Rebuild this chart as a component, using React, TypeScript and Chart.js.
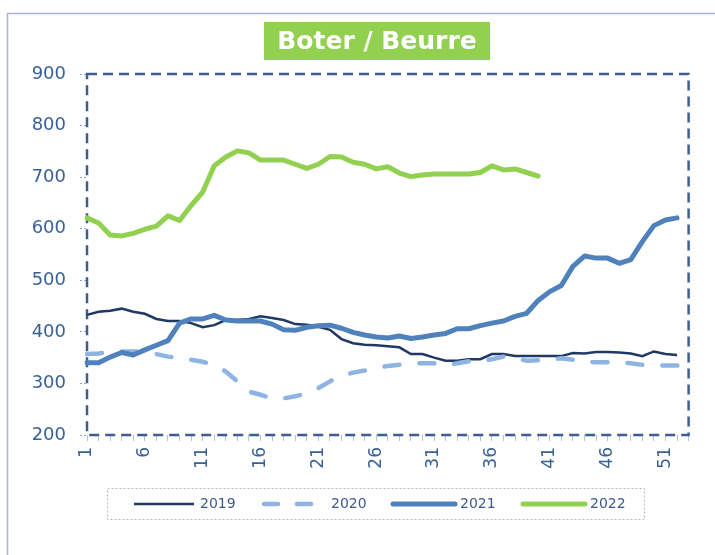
import React, { useEffect, useRef } from "react";
import { Chart, registerables } from "chart.js";

Chart.register(...registerables);

const weeks = [
  "1", "2", "3", "4", "5", "6", "7", "8", "9", "10",
  "11", "12", "13", "14", "15", "16", "17", "18", "19", "20",
  "21", "22", "23", "24", "25", "26", "27", "28", "29", "30",
  "31", "32", "33", "34", "35", "36", "37", "38", "39", "40",
  "41", "42", "43", "44", "45", "46", "47", "48", "49", "50",
  "51", "52", "53",
];

const seriesNames = ["2019", "2020", "2021", "2022"];

const values2019 = [
  433, 439, 441, 445, 439, 435, 425, 421, 421, 417,
  409, 413, 423, 423, 425, 430, 427, 423, 415, 414,
  410, 404, 386, 378, 375, 374, 372, 370, 357, 357,
  350, 344, 344, 347, 347, 357, 357, 353, 353, 353,
  353, 353, 359, 358, 361, 361, 360, 358, 353, 362,
  357, 355,
];

const values2020 = [
  357, 358, 361, 362, 362, 361, 357, 352, 349, 346,
  342, 336, 323, 304, 284, 278, 271, 271, 275, 281,
  291, 304, 315, 321, 325, 330, 334, 336, 339, 339,
  339, 335, 339, 343, 343, 347, 352, 349, 344, 345,
  346, 349, 346, 342, 341, 341, 341, 339, 336, 335,
  335, 335, 335,
];

const values2021 = [
  340, 340, 351, 360, 355, 365, 374, 383, 417, 425,
  425, 432, 423, 421, 421, 421, 415, 404, 403, 409,
  412, 413, 407, 399, 394, 390, 388, 392, 387, 390,
  394, 397, 406, 406, 412, 417, 421, 430, 436, 461,
  478, 490, 527, 547, 543, 543, 533, 540, 575, 606,
  617, 621,
];

const values2022 = [
  621, 611, 588, 586, 591, 599, 605, 625, 616, 645,
  671, 722, 739, 751, 747, 733, 733, 733, 725, 717,
  725, 740, 739, 729, 725, 716, 720, 708, 701, 704,
  706, 706, 706, 706, 709, 722, 714, 716, 709, 702,
];

const yMin = 200;
const yMax = 900;
const yStep = 100;
const titleText = "Boter / Beurre";

const C2019 = "#1f3864";
const C2020 = "#8db4e2";
const C2021 = "#4f81bd";
const C2022 = "#92d050";
const AXIS_TEXT = "#3a6194";

const decorPlugin = {
  id: "decor",
  beforeDraw(chart: any) {
    const ctx = chart.ctx;
    ctx.save();
    ctx.fillStyle = "#ffffff";
    ctx.fillRect(0, 0, chart.width, chart.height);
    ctx.strokeStyle = "#a8b6cb";
    ctx.lineWidth = 1.5;
    ctx.beginPath();
    ctx.moveTo(7.5, chart.height);
    ctx.lineTo(7.5, 13.5);
    ctx.lineTo(chart.width, 13.5);
    ctx.stroke();
    ctx.restore();
  },
  beforeDatasetsDraw(chart: any) {
    const { ctx, chartArea } = chart;
    ctx.save();
    ctx.strokeStyle = "#3b5f93";
    ctx.lineWidth = 2.5;
    ctx.setLineDash([10, 6]);
    ctx.strokeRect(
      chartArea.left,
      chartArea.top,
      chartArea.right - chartArea.left,
      chartArea.bottom - chartArea.top
    );
    ctx.restore();
  },
  afterDraw(chart: any) {
    const ctx = chart.ctx;
    ctx.save();
    // title
    ctx.fillStyle = C2022;
    ctx.fillRect(264, 22, 226, 38);
    ctx.fillStyle = "#ffffff";
    ctx.font = "bold 25px 'DejaVu Sans'";
    ctx.textAlign = "center";
    ctx.textBaseline = "middle";
    ctx.fillText(titleText, 377, 42);

    // legend
    ctx.strokeStyle = "#b3b9c4";
    ctx.lineWidth = 1;
    ctx.setLineDash([2, 2]);
    ctx.strokeRect(107.5, 488.5, 537, 31);
    ctx.setLineDash([]);
    const ly = 504;
    const items = [
      { x0: 134, x1: 194, tx: 200, color: C2019, w: 2.5, dash: [] as number[], cap: "butt" },
      { x0: 264, x1: 311, tx: 331, color: C2020, w: 4.5, dash: [14, 19], cap: "round" },
      { x0: 393, x1: 455, tx: 460, color: C2021, w: 5, dash: [] as number[], cap: "round" },
      { x0: 523, x1: 585, tx: 590, color: C2022, w: 5, dash: [] as number[], cap: "round" },
    ];
    items.forEach((it, i) => {
      ctx.strokeStyle = it.color;
      ctx.lineWidth = it.w;
      ctx.lineCap = it.cap;
      ctx.setLineDash(it.dash);
      ctx.beginPath();
      ctx.moveTo(it.x0, ly);
      ctx.lineTo(it.x1, ly);
      ctx.stroke();
      ctx.setLineDash([]);
      ctx.fillStyle = "#3d5a8a";
      ctx.font = "14px 'DejaVu Sans'";
      ctx.textAlign = "left";
      ctx.textBaseline = "middle";
      ctx.fillText(seriesNames[i], it.tx, ly);
    });
    ctx.restore();
  },
};

export default function App() {
  const canvasRef = useRef<HTMLCanvasElement | null>(null);

  useEffect(() => {
    if (!canvasRef.current) return;
    const chart = new Chart(canvasRef.current, {
      type: "line",
      data: {
        labels: weeks,
        datasets: [
          {
            label: seriesNames[0],
            data: values2019,
            borderColor: C2019,
            borderWidth: 2.5,
            order: 4,
          },
          {
            label: seriesNames[1],
            data: values2020,
            borderColor: C2020,
            borderWidth: 4.5,
            borderDash: [15, 20],
            borderCapStyle: "round",
            order: 3,
          },
          {
            label: seriesNames[2],
            data: values2021,
            borderColor: C2021,
            borderWidth: 5,
            borderCapStyle: "round",
            borderJoinStyle: "round",
            order: 2,
          },
          {
            label: seriesNames[3],
            data: values2022,
            borderColor: C2022,
            borderWidth: 5,
            borderCapStyle: "round",
            borderJoinStyle: "round",
            order: 1,
          },
        ],
      },
      options: {
        responsive: false,
        animation: false,
        layout: { padding: { top: 74, right: 25, left: 0, bottom: 0 } },
        elements: {
          point: { radius: 0, hoverRadius: 0 },
          line: { tension: 0, fill: false },
        },
        plugins: {
          legend: { display: false },
          title: { display: false },
          tooltip: { enabled: false },
        },
        scales: {
          x: {
            type: "category",
            offset: false,
            border: { display: false },
            grid: {
              drawOnChartArea: false,
              drawTicks: true,
              tickLength: 6,
              color: "#b4c4d8",
              lineWidth: 1,
            },
            ticks: {
              autoSkip: false,
              maxRotation: 90,
              minRotation: 90,
              padding: 6,
              color: AXIS_TEXT,
              font: { family: "DejaVu Sans", size: 17 },
              callback: (_v: any, i: number) => (i % 5 === 0 ? weeks[i] : ""),
            },
            afterFit: (s: any) => {
              s.height = 120;
            },
          },
          y: {
            min: yMin,
            max: yMax,
            border: { display: false },
            grid: {
              drawOnChartArea: false,
              drawTicks: true,
              tickLength: 7,
              color: "#8ea6c4",
              tickBorderDash: [2, 2],
            },
            ticks: {
              stepSize: yStep,
              padding: 14,
              color: AXIS_TEXT,
              font: { family: "DejaVu Sans", size: 18 },
            },
            afterFit: (s: any) => {
              s.width = 87;
            },
          },
        },
      },
      plugins: [decorPlugin],
    } as any);
    return () => chart.destroy();
  }, []);

  return (
    <div style={{ position: "absolute", left: 0, top: 0, width: 715, height: 555 }}>
      <canvas
        ref={canvasRef}
        width={715}
        height={555}
        style={{ width: 715, height: 555, display: "block" }}
      />
    </div>
  );
}
